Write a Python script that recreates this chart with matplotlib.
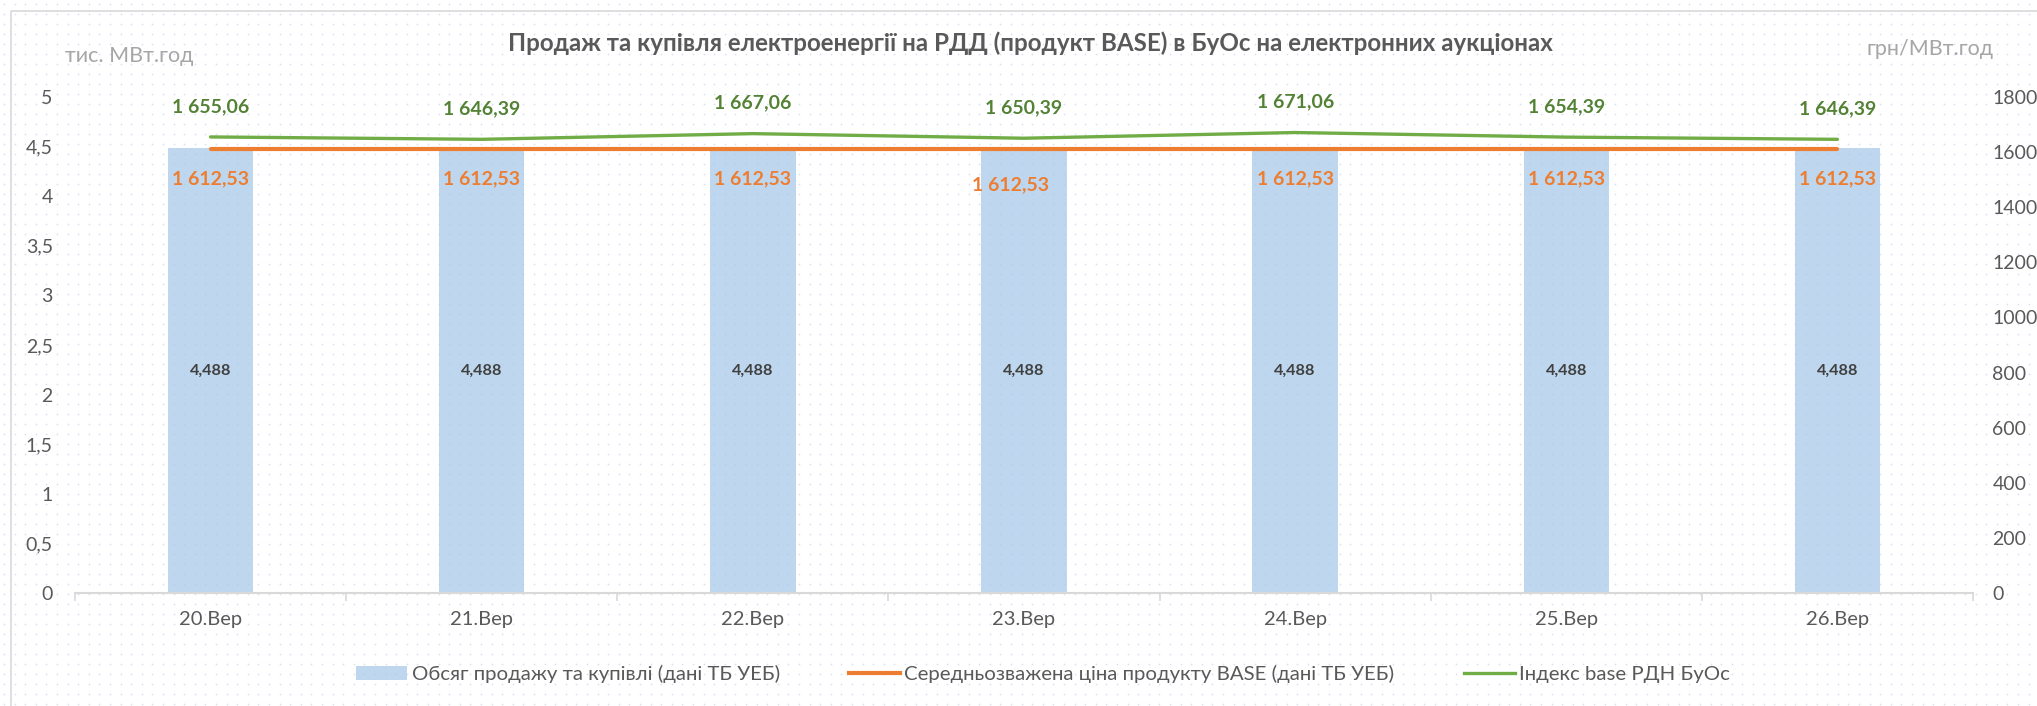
import numpy as np
import matplotlib
matplotlib.use('Agg')
import matplotlib.pyplot as plt
from matplotlib.lines import Line2D
from matplotlib.patches import Patch

plt.rcParams['font.family'] = ['Lato', 'DejaVu Sans']

#--- дані
days = ['20.Вер', '21.Вер', '22.Вер', '23.Вер', '24.Вер', '25.Вер', '26.Вер']
volume = [4.488, 4.488, 4.488, 4.488, 4.488, 4.488, 4.488]
price_base = [1612.53, 1612.53, 1612.53, 1612.53, 1612.53, 1612.53, 1612.53]
index_base = [1655.06, 1646.39, 1667.06, 1650.39, 1671.06, 1654.39, 1646.39]
left_ticks = [0, 0.5, 1, 1.5, 2, 2.5, 3, 3.5, 4, 4.5, 5]
right_ticks = [0, 200, 400, 600, 800, 1000, 1200, 1400, 1600, 1800]

title = 'Продаж та купівля електроенергії на РДД (продукт BASE) в БуОс на електронних аукціонах'
label_volume = 'Обсяг продажу та купівлі (дані ТБ УЕБ)'
label_price = 'Середньозважена ціна продукту BASE (дані ТБ УЕБ)'
label_index = 'Індекс base РДН БуОс'

TEXT = '#595959'
GREEN = '#70AD47'
GREEN_DARK = '#548235'
ORANGE = '#ED7D31'
AXIS = '#D9D9D9'


def fmt_uah(v):
    s = f'{v:,.2f}'.replace(',', ' ').replace('.', ',')
    return s


W, H = 2037, 706
fig = plt.figure(figsize=(W / 100, H / 100), dpi=100)

#--- фон у крапку
bg = fig.add_axes([0, 0, 1, 1], zorder=-10)
bg.set_xlim(0, W)
bg.set_ylim(H, 0)
bg.axis('off')
gx, gy = np.meshgrid(np.arange(4, W, 10.6), np.arange(4, H, 10.0))
bg.scatter(gx.ravel(), gy.ravel(), s=1.6, color='#D5E3F3', linewidths=0)
bg.plot([11, 11, W], [H, 11, 11], color=AXIS, lw=1.2)

#--- основна вісь
ax = fig.add_axes([75 / W, 113 / H, 1898 / W, 496 / H])
ax.patch.set_alpha(0)
x = np.arange(len(days))
bars = ax.bar(x, volume, width=0.315, color='#9DC3E6', alpha=0.66, zorder=2)
ax.set_xlim(-0.5, len(days) - 0.5)
ax.set_ylim(0, 5)
ax.set_yticks(left_ticks)
ax.set_yticklabels([str(t).replace('.', ',') for t in left_ticks])
ax.set_xticks(x)
ax.set_xticklabels(days)
ax.set_xticks(np.arange(-0.5, len(days), 1), minor=True)
ax.tick_params(axis='x', which='major', length=0, pad=13, labelsize=14.5, labelcolor=TEXT)
ax.tick_params(axis='x', which='minor', length=6, width=1.2, color=AXIS)
ax.tick_params(axis='y', length=0, pad=16, labelsize=14, labelcolor=TEXT)
for s in ['top', 'right', 'left']:
    ax.spines[s].set_visible(False)
ax.spines['bottom'].set_color(AXIS)
ax.spines['bottom'].set_linewidth(1.5)

for xi, v in zip(x, volume):
    ax.text(xi, v / 2, f'{v:.3f}'.replace('.', ','), ha='center', va='center',
            fontsize=11.7, fontweight='bold', color='#404040', zorder=5)

#--- друга вісь (ціна)
ax2 = ax.twinx()
ax2.set_ylim(0, 1800)
ax2.set_yticks(right_ticks)
ax2.tick_params(axis='y', length=0, pad=14, labelsize=14, labelcolor=TEXT)
for s in ax2.spines.values():
    s.set_visible(False)

ax2.plot(x, price_base, color=ORANGE, lw=3.0, solid_capstyle='round', zorder=3)
ax2.plot(x, index_base, color=GREEN, lw=2.4, solid_capstyle='round', zorder=4)

for xi, v in zip(x, index_base):
    ax2.annotate(fmt_uah(v), (xi, v), xytext=(0, 22), textcoords='offset points',
                 ha='center', va='center', fontsize=14, fontweight='bold', color=GREEN_DARK)
for xi, v in zip(x, price_base):
    dx, dy = (0, -22)
    if xi == 3:
        dx, dy = (-10, -26)
    ax2.annotate(fmt_uah(v), (xi, v), xytext=(dx, dy), textcoords='offset points',
                 ha='center', va='center', fontsize=14, fontweight='bold', color=ORANGE)

#--- підписи
fig.text(1030 / W, 1 - 43 / H, title, ha='center', va='center',
         fontsize=17.4, fontweight='bold', color=TEXT)
fig.text(65 / W, 1 - 56 / H, 'тис. МВт.год', ha='left', va='center', fontsize=15.5, color='#A6A6A6')
fig.text(1993 / W, 1 - 49 / H, 'грн/МВт.год', ha='right', va='center', fontsize=15.5, color='#A6A6A6')

handles = [Patch(facecolor='#9DC3E6', alpha=0.66, edgecolor='none'),
           Line2D([], [], color=ORANGE, lw=3.0),
           Line2D([], [], color=GREEN, lw=2.4)]
fig.legend(handles, [label_volume, label_price, label_index], loc='center',
           bbox_to_anchor=(1043 / W, 1 - 674 / H), ncol=3, frameon=False,
           fontsize=14.7, labelcolor=TEXT, handlelength=2.5, handletextpad=0.2,
           columnspacing=3.4)

fig.savefig('out.png', dpi=100)
